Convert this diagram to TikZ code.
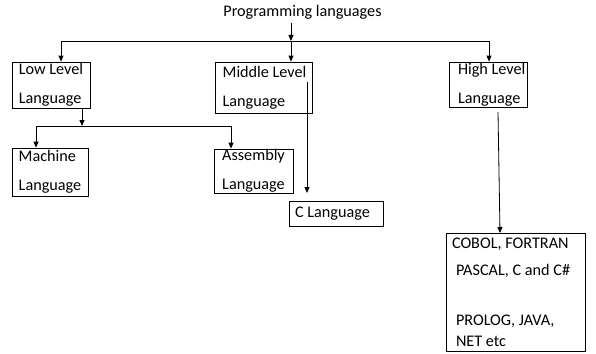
\documentclass[tikz,border=0pt]{standalone}
\usepackage{fontspec}
\setmainfont{Carlito}
\usetikzlibrary{arrows.meta}
\begin{document}
\begin{tikzpicture}[x=1pt,y=-1pt,
  every node/.style={font=\fontsize{16.2}{29}\selectfont},
  arr/.style={-{Triangle[length=6pt,width=5pt]}, line width=0.8pt},
  con/.style={line width=0.8pt},
  lbox/.style={draw, line width=0.8pt, align=left, inner sep=0pt}]
\useasboundingbox (0,0) rectangle (596,353);
% nodes
\node (root) at (302.5,12) {Programming languages};
\node[lbox, minimum width=78pt, minimum height=46pt] (low) at (51,85) {Low Level\\Language};
\node[lbox, minimum width=97pt, minimum height=51pt, inner xsep=4pt] (mid) at (263.5,87.5) {\makebox[89pt][l]{\ Middle Level}\\\ Language};
\node[lbox, minimum width=78pt, minimum height=45pt, inner xsep=4pt] (high) at (488,84.5) {\makebox[70pt][l]{\hspace*{5pt}High Level}\\\hspace*{5pt}Language};
\node[lbox, minimum width=76pt, minimum height=48pt] (mach) at (50,172) {Machine\\Language};
\node[lbox, minimum width=79pt, minimum height=44pt] (asm) at (253.5,171) {Assembly\\Language};
\node[lbox, minimum width=94pt, minimum height=25pt, inner xsep=3pt] (clang) at (336,214) {\makebox[88pt][l]{\hspace*{3pt}C Language}};
\node[lbox, minimum width=139pt, minimum height=118pt, inner xsep=6pt] (list) at (515.5,292)
  {\makebox[127pt][l]{COBOL, FORTRAN}\\[-2pt]
   \hspace*{4pt}PASCAL, C and C\#\\[21pt]
   \hspace*{4pt}PROLOG, JAVA,\\[-8pt]
   \hspace*{4pt}NET etc};
% bus coordinates
\coordinate (bR) at (291,41);
\coordinate (bL) at (61,41);
\coordinate (bH) at (489,41);
\coordinate (lS) at (82,126);
\coordinate (lL) at (36,126);
\coordinate (lA) at (231,126);
\coordinate (mS) at (307,82);
\coordinate (cT) at (307,193);
\coordinate (hS) at (498,112);
\coordinate (hT) at (500,233);
% connectors
\draw[arr] (root.south -| bR) -- (bR);
\draw[con] (bL) -- (bH);
\draw[arr] (bL) -- (bL |- low.north);
\draw[arr] (bR) -- (bR |- mid.north);
\draw[arr] (bH) -- (bH |- high.north);
\draw[arr] (low.south -| lS) -- (lS);
\draw[con] (lL) -- (lA);
\draw[arr] (lL) -- (lL |- mach.north);
\draw[arr] (lA) -- (lA |- asm.north);
\draw[arr] (mS) -- (cT);
\draw[arr] (hS) -- (hT);
\end{tikzpicture}
\end{document}
